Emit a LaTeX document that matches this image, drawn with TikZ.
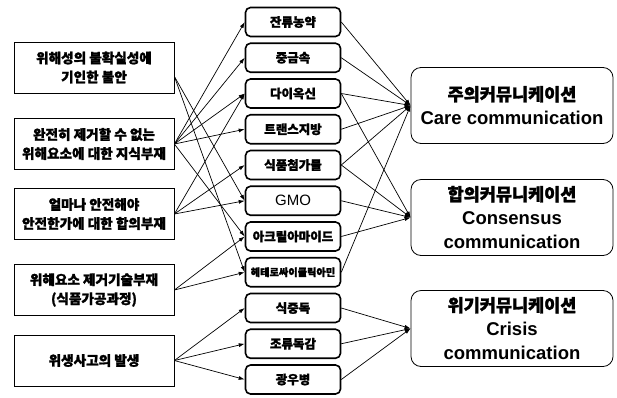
\documentclass[tikz,border=0pt]{standalone}
\usepackage{fontspec}
\setmainfont{Liberation Sans}
\newfontfamily\kr{Noto Sans CJK KR}[BoldFeatures={FakeBold=1.5}]
\usetikzlibrary{arrows.meta}
\begin{document}
\begin{tikzpicture}[x=1pt,y=-1pt,
 leftbox/.style={draw, line width=0.8pt, minimum width=160pt, minimum height=51pt, align=center, inner sep=0pt, font=\kr\bfseries\fontsize{13.6}{19}\selectfont},
 midbox/.style={draw, line width=1.6pt, rounded corners=5pt, minimum width=95pt, minimum height=29pt, inner sep=0pt, font=\kr\bfseries\fontsize{12.5}{14}\selectfont},
 rightbox/.style={draw, line width=0.8pt, rounded corners=10pt, minimum width=202pt, minimum height=76pt, align=center, inner sep=0pt, font=\bfseries\fontsize{18.5}{24}\selectfont},
 conn/.style={line width=0.7pt, -{Latex[length=6pt,width=4pt]}}
]
\useasboundingbox (0,0) rectangle (617,397);
% left boxes
\node[leftbox] (L1) at (94,67.5) {위해성의 불확실성에\\기인한 불안};
\node[leftbox] (L2) at (94,144) {완전히 제거할 수 없는\\위해요소에 대한 지식부재};
\node[leftbox] (L3) at (94,214) {얼마나 안전해야\\안전한가에 대한 합의부재};
\node[leftbox] (L4) at (94,290) {위해요소 제거기술부재\\(식품가공과정)};
\node[leftbox] (L5) at (94,360.5) {위생사고의 발생};
% middle boxes
\node[midbox] (M1) at (293,22) {잔류농약};
\node[midbox] (M2) at (293,57.75) {중금속};
\node[midbox] (M3) at (293,93.5) {다이옥신};
\node[midbox] (M4) at (293,129.25) {트랜스지방};
\node[midbox] (M5) at (293,165) {식품첨가물};
\node[midbox] (M6) at (293,200.75) {\rmfamily\mdseries\fontsize{15}{16}\selectfont GMO};
\node[midbox] (M7) at (293,236.5) {아크릴아마이드};
\node[midbox] (M8) at (293,272.25) {\fontsize{10.2}{12}\selectfont 헤테로싸이클릭아민};
\node[midbox] (M9) at (293,308) {식중독};
\node[midbox] (M10) at (293,343.75) {조류독감};
\node[midbox] (M11) at (293,379.5) {광우병};
% right boxes
\node[rightbox] (R1) at (512,105.5) {{\kr\fontsize{17.5}{24}\selectfont 주의커뮤니케이션}\\Care communication};
\node[rightbox] (R2) at (512,217.5) {{\kr\fontsize{17.5}{24}\selectfont 합의커뮤니케이션}\\Consensus\\communication};
\node[rightbox] (R3) at (512,328.5) {{\kr\fontsize{17.5}{24}\selectfont 위기커뮤니케이션}\\Crisis\\communication};
% start point of L1
\coordinate (p1) at ([yshift=-9pt]L1.east);
% left -> middle
\foreach \m in {M6,M8} \draw[conn] (p1) -- (\m.west);
\foreach \m in {M1,M2,M3,M4,M7} \draw[conn] (L2.east) -- (\m.west);
\foreach \m in {M3,M5,M6} \draw[conn] (L3.east) -- (\m.west);
\foreach \m in {M7,M8} \draw[conn] (L4.east) -- (\m.west);
\foreach \m in {M9,M10,M11} \draw[conn] (L5.east) -- (\m.west);
% middle -> right
\foreach \m in {M1,M2,M3,M4,M5,M8} \draw[conn] (\m.east) -- (R1.west);
\foreach \m in {M3,M5,M6,M7} \draw[conn] (\m.east) -- (R2.west);
\foreach \m in {M9,M10,M11} \draw[conn] (\m.east) -- (R3.west);
\end{tikzpicture}
\end{document}
